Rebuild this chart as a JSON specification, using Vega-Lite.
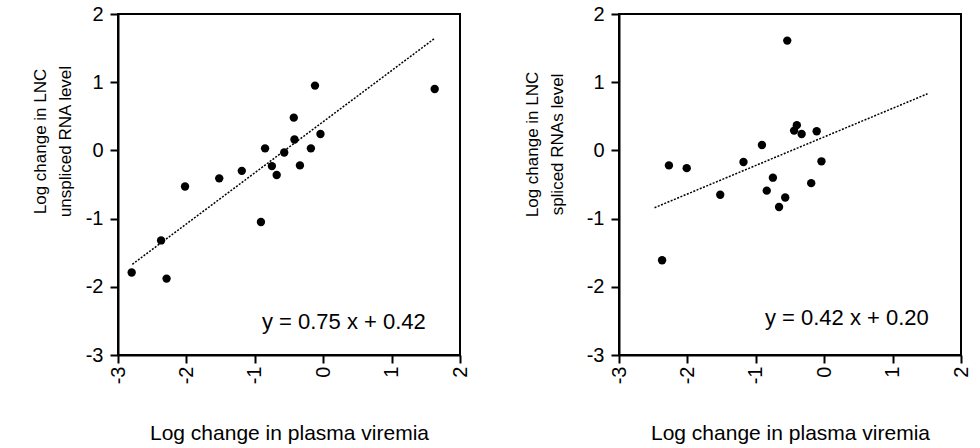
{
  "$schema": "https://vega.github.io/schema/vega-lite/v6.json",
  "background": "white",
  "padding": {"left": 30, "top": 3, "right": 0, "bottom": 0},
  "bounds": "flush",
  "spacing": 159,
  "config": {
    "font": "Liberation Sans",
    "view": {"stroke": "black", "strokeWidth": 2},
    "axis": {
      "grid": false,
      "domainColor": "black",
      "domainWidth": 2,
      "tickColor": "black",
      "tickWidth": 2,
      "tickSize": 8,
      "labelColor": "black",
      "labelFont": "Liberation Sans",
      "labelFontSize": 20,
      "labelExpr": "datum.value < 0 ? '-' + abs(datum.value) : '' + datum.value",
      "titleFont": "Liberation Sans",
      "titleFontWeight": "normal",
      "titleColor": "black"
    }
  },
  "datasets": {
    "pts1": [
      {"x": -2.80, "y": -1.79}, {"x": -2.37, "y": -1.32}, {"x": -2.29, "y": -1.88},
      {"x": -2.02, "y": -0.53}, {"x": -1.52, "y": -0.41}, {"x": -1.19, "y": -0.30},
      {"x": -0.91, "y": -1.05}, {"x": -0.85, "y": 0.03}, {"x": -0.75, "y": -0.23},
      {"x": -0.68, "y": -0.36}, {"x": -0.57, "y": -0.03}, {"x": -0.43, "y": 0.48},
      {"x": -0.42, "y": 0.16}, {"x": -0.34, "y": -0.22}, {"x": -0.18, "y": 0.03},
      {"x": -0.12, "y": 0.95}, {"x": -0.04, "y": 0.24}, {"x": 1.63, "y": 0.90}
    ],
    "pts2": [
      {"x": -0.54, "y": 1.61}, {"x": -0.40, "y": 0.37}, {"x": -0.44, "y": 0.29},
      {"x": -0.33, "y": 0.24}, {"x": -0.11, "y": 0.28}, {"x": -0.91, "y": 0.08},
      {"x": -0.04, "y": -0.16}, {"x": -2.27, "y": -0.22}, {"x": -2.01, "y": -0.26},
      {"x": -1.18, "y": -0.17}, {"x": -0.75, "y": -0.40}, {"x": -0.19, "y": -0.48},
      {"x": -1.52, "y": -0.65}, {"x": -0.84, "y": -0.59}, {"x": -0.57, "y": -0.69},
      {"x": -0.66, "y": -0.83}, {"x": -2.37, "y": -1.61}
    ],
    "line1": [{"x": -2.79, "y": -1.67}, {"x": 1.62, "y": 1.635}],
    "line2": [{"x": -2.48, "y": -0.84}, {"x": 1.51, "y": 0.83}],
    "eq1": [{"x": 1.5, "y": -2.62, "label": "y = 0.75 x + 0.42"}],
    "eq2": [{"x": 1.53, "y": -2.56, "label": "y = 0.42 x + 0.20"}]
  },
  "hconcat": [
    {
      "width": 342,
      "height": 341,
      "encoding": {
        "x": {
          "field": "x", "type": "quantitative",
          "scale": {"domain": [-3, 2], "nice": false, "zero": false},
          "axis": {
            "values": [-3, -2, -1, 0, 1, 2],
            "labelAngle": 270,
            "labelPadding": 3,
            "title": "Log change in plasma viremia",
            "titleFontSize": 21,
            "titleY": 84,
            "titleBaseline": "alphabetic"
          }
        },
        "y": {
          "field": "y", "type": "quantitative",
          "scale": {"domain": [-3, 2], "nice": false, "zero": false},
          "axis": {
            "values": [-3, -2, -1, 0, 1, 2],
            "labelPadding": 7,
            "title": ["Log change in LNC", "unspliced RNA level"],
            "titleFontSize": 17,
            "titleLineHeight": 25,
            "titleAngle": 270,
            "titleAlign": "center",
            "titleBaseline": "middle",
            "titleX": -78,
            "titleY": 127
          }
        }
      },
      "layer": [
        {"data": {"name": "line1"}, "mark": {"type": "line", "color": "black", "strokeWidth": 1.5, "strokeDash": [2, 1.5]}},
        {"data": {"name": "pts1"}, "mark": {"type": "circle", "color": "black", "opacity": 1, "size": 70}},
        {"data": {"name": "eq1"}, "mark": {"type": "text", "align": "right", "baseline": "alphabetic", "fontSize": 22, "color": "black"}, "encoding": {"text": {"field": "label"}}}
      ]
    },
    {
      "width": 342,
      "height": 341,
      "encoding": {
        "x": {
          "field": "x", "type": "quantitative",
          "scale": {"domain": [-3, 2], "nice": false, "zero": false},
          "axis": {
            "values": [-3, -2, -1, 0, 1, 2],
            "labelAngle": 270,
            "labelPadding": 3,
            "title": "Log change in plasma viremia",
            "titleFontSize": 21,
            "titleY": 84,
            "titleBaseline": "alphabetic"
          }
        },
        "y": {
          "field": "y", "type": "quantitative",
          "scale": {"domain": [-3, 2], "nice": false, "zero": false},
          "axis": {
            "values": [-3, -2, -1, 0, 1, 2],
            "labelPadding": 7,
            "title": ["Log change in LNC", "spliced RNAs level"],
            "titleFontSize": 17,
            "titleLineHeight": 25,
            "titleAngle": 270,
            "titleAlign": "center",
            "titleBaseline": "middle",
            "titleX": -87,
            "titleY": 130
          }
        }
      },
      "layer": [
        {"data": {"name": "line2"}, "mark": {"type": "line", "color": "black", "strokeWidth": 1.5, "strokeDash": [2, 1.5]}},
        {"data": {"name": "pts2"}, "mark": {"type": "circle", "color": "black", "opacity": 1, "size": 70}},
        {"data": {"name": "eq2"}, "mark": {"type": "text", "align": "right", "baseline": "alphabetic", "fontSize": 22, "color": "black"}, "encoding": {"text": {"field": "label"}}}
      ]
    }
  ]
}
